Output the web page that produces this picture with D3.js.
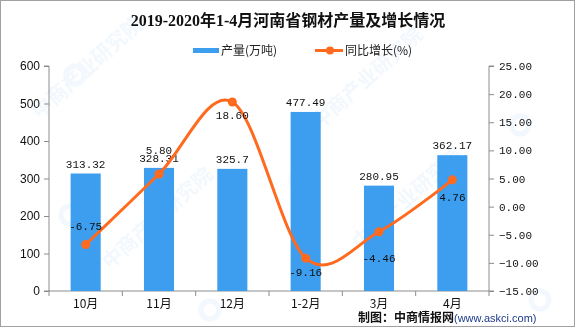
<!DOCTYPE html>
<html><head><meta charset="utf-8">
<script src="https://cdn.jsdelivr.net/npm/d3@7/dist/d3.min.js"></script>
<style>body{margin:0;background:#fff}svg{display:block}</style>
</head><body><svg id="c" width="575" height="327"></svg>
<script>
const categories = ["10月","11月","12月","1-2月","3月","4月"];
const output = [313.32, 328.31, 325.7, 477.49, 280.95, 362.17];
const growth = [-6.75, 5.80, 18.60, -9.16, -4.46, 4.76];
const leftTicks = [0,100,200,300,400,500,600];
const rightTicks = [-15,-10,-5,0,5,10,15,20,25];
const title = "2019-2020年1-4月河南省钢材产量及增长情况";
const legendNames = ["产量(万吨)","同比增长(%)"];

const svg = d3.select("#c");
const W=575,H=327;
const m={l:49,r:489,t:66,b:291};
const barColor="#3d9ef0", lineColor="#ff6a1e", axisColor="#8c8c8c";
const numFont="'Liberation Mono','DejaVu Sans Mono',monospace";
const cjkFont="'Noto Sans CJK SC',sans-serif";

svg.append("rect").attr("x",0.5).attr("y",0.5).attr("width",W-1).attr("height",H-1).attr("fill","#fff").attr("stroke","#a0a0a0");

// faint watermarks
const wm = svg.append("g").attr("opacity",0.07);
[[40,120],[320,130],[110,270],[360,250]].forEach(([x,y])=>{
  wm.append("text").attr("transform",`translate(${x},${y}) rotate(-42)`).attr("font-family",cjkFont).attr("font-size",20).attr("font-weight","bold").attr("fill","#3a8fd8").text("中商产业研究院");
});
[[75,75],[70,215],[300,180],[520,125],[210,310],[540,300]].forEach(([x,y])=>{
  wm.append("circle").attr("cx",x).attr("cy",y).attr("r",9).attr("fill","none").attr("stroke","#3a8fd8").attr("stroke-width",5);
});

const xb = d3.scaleBand().domain(categories).range([m.l,m.r]);
const x = d3.scaleBand().domain(categories).range([m.l,m.r]).paddingInner(0.59).paddingOuter(0.295);
const yL = d3.scaleLinear().domain([0,600]).range([m.b,m.t]);
const yR = d3.scaleLinear().domain([-15,25]).range([m.b,m.t]);

// title
svg.append("text").attr("x",288).attr("y",26).attr("text-anchor","middle")
  .attr("font-family","'Liberation Serif','Noto Sans CJK SC',serif").attr("font-weight","bold").attr("font-size",16).attr("fill","#111").text(title);

// legend
const lg = svg.append("g").attr("font-family",cjkFont).attr("font-size",12).attr("fill","#222");
lg.append("rect").attr("x",193).attr("y",48).attr("width",26).attr("height",5).attr("fill",barColor);
lg.append("text").attr("x",221).attr("y",55).text(legendNames[0]);
lg.append("line").attr("x1",315).attr("x2",343).attr("y1",50.5).attr("y2",50.5).attr("stroke",lineColor).attr("stroke-width",3);
lg.append("circle").attr("cx",330).attr("cy",50.5).attr("r",4).attr("fill",lineColor);
lg.append("text").attr("x",345).attr("y",55).text(legendNames[1]);

// axes
const axL = svg.append("g").attr("transform",`translate(${m.l},0)`).call(d3.axisLeft(yL).tickValues(leftTicks).tickSize(5).tickPadding(4).tickFormat(d3.format("d")));
axL.selectAll("text").attr("font-family","'Liberation Sans',Arial,sans-serif").attr("font-size",12).attr("fill","#111");
const axR = svg.append("g").attr("transform",`translate(${m.r},0)`).call(d3.axisRight(yR).tickValues(rightTicks).tickSize(5).tickPadding(5).tickFormat(d3.format(".2f")));
axR.selectAll("text").attr("font-family",numFont).attr("font-size",11).attr("fill","#111");
const axB = svg.append("g").attr("transform",`translate(0,${m.b})`).call(d3.axisBottom(xb).tickSize(0).tickPadding(8));
axB.selectAll("text").attr("font-family",cjkFont).attr("font-size",12).attr("fill","#111");
[axL,axR,axB].forEach(a=>{a.select(".domain").attr("stroke",axisColor);a.selectAll(".tick line").attr("stroke",axisColor);});
axL.select(".domain").attr("d",`M-5,${m.t}H0V${m.b}H-5`);
axR.select(".domain").attr("d",`M5,${m.t}H0V${m.b}H5`);
axB.select(".domain").attr("d",`M${m.l-1},0H${m.r}`);
const bounds = categories.map(c=>xb(c)).concat([m.r]);
svg.append("g").selectAll("line").data(bounds).join("line")
  .attr("x1",d=>d).attr("x2",d=>d).attr("y1",m.b).attr("y2",m.b+5).attr("stroke",axisColor);

// bars
svg.append("g").selectAll("rect").data(output).join("rect")
  .attr("x",(d,i)=>x(categories[i])).attr("width",x.bandwidth())
  .attr("y",d=>yL(d)).attr("height",d=>m.b-yL(d)).attr("fill",barColor);
svg.append("g").selectAll("text").data(output).join("text")
  .attr("x",(d,i)=>xb(categories[i])+xb.bandwidth()/2).attr("y",d=>yL(d)-6)
  .attr("text-anchor","middle").attr("font-family",numFont).attr("font-size",11).attr("fill","#111")
  .text(d=>String(d));

// line
const cx = i=>xb(categories[i])+xb.bandwidth()/2;
const line = d3.line().x((d,i)=>cx(i)).y(d=>yR(d)).curve(d3.curveCatmullRom.alpha(0));
svg.append("path").datum(growth).attr("d",line).attr("fill","none").attr("stroke",lineColor).attr("stroke-width",3);
svg.append("g").selectAll("circle").data(growth).join("circle")
  .attr("cx",(d,i)=>cx(i)).attr("cy",d=>yR(d)).attr("r",4.5).attr("fill",lineColor);
const labelDy = [-15,-20,17,18,30,21];
svg.append("g").selectAll("text").data(growth).join("text")
  .attr("x",(d,i)=>cx(i)).attr("y",(d,i)=>yR(d)+labelDy[i])
  .attr("text-anchor","middle").attr("font-family",numFont).attr("font-size",11).attr("fill","#111")
  .text(d=>d.toFixed(2));

// source
const src = svg.append("text").attr("x",358).attr("y",322).attr("font-family",cjkFont);
src.append("tspan").attr("font-size",12).attr("font-weight","bold").attr("fill","#111").text("制图：中商情报网");
src.append("tspan").attr("font-size",11).attr("fill","#1e3a8c").attr("font-family","'Liberation Sans',Arial,sans-serif").text("(www.askci.com)");
</script></body></html>
